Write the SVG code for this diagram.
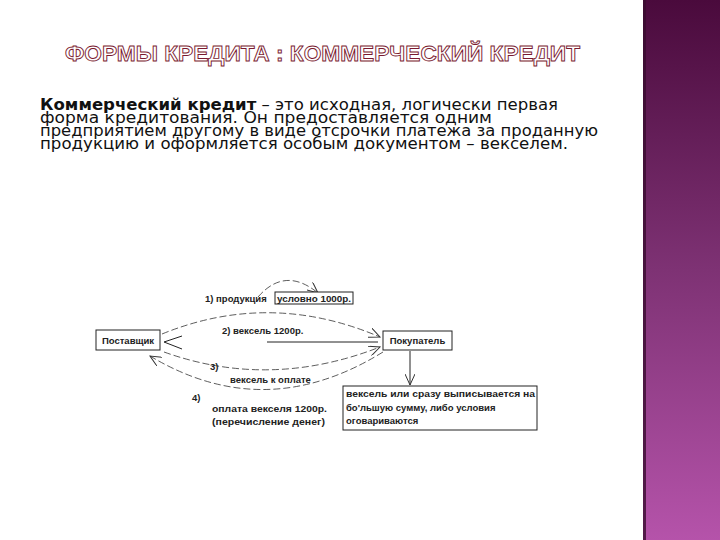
<svg xmlns="http://www.w3.org/2000/svg" width="720" height="540" viewBox="0 0 720 540">
<defs>
<linearGradient id="side" x1="0" y1="0" x2="0" y2="1">
<stop offset="0" stop-color="#4a0a3c"/>
<stop offset="0.5" stop-color="#7e3274"/>
<stop offset="1" stop-color="#b553aa"/>
</linearGradient>
<marker id="arr" viewBox="0 0 12 10" refX="11" refY="5" markerWidth="12" markerHeight="10" markerUnits="userSpaceOnUse" orient="auto">
<path d="M0,0 L11,5 L0,10" fill="none" stroke="#333" stroke-width="1"/>
</marker>
</defs>
<style>
.title{font-family:"Liberation Sans",Arial,sans-serif;font-weight:bold;font-size:22px;fill:#fff;stroke:#7a1a30;stroke-width:0.9}
.body{font-family:"DejaVu Sans",Verdana,sans-serif;font-size:15.5px;fill:#111}
.lbl{font-family:"Liberation Sans",Arial,sans-serif;font-weight:bold;font-size:9.5px;fill:#222}
.box{fill:#fff;stroke:#222;stroke-width:1}
.dash{fill:none;stroke:#333;stroke-width:0.8;stroke-dasharray:7,3}
.solid{fill:none;stroke:#222;stroke-width:1}
</style>
<rect width="720" height="540" fill="#fff"/>
<rect x="643" y="0" width="77" height="540" fill="url(#side)"/>
<rect x="643" y="0" width="3" height="540" fill="#3a0c30" opacity="0.8"/>

<text class="title" x="65" y="61" textLength="515" lengthAdjust="spacingAndGlyphs">ФОРМЫ КРЕДИТА : КОММЕРЧЕСКИЙ КРЕДИТ</text>

<g id="body-text">
<text class="body" x="40" y="110" textLength="518" lengthAdjust="spacingAndGlyphs"><tspan font-weight="bold">Коммерческий кредит</tspan> – это исходная, логически первая</text>
<text class="body" x="40" y="123" textLength="452" lengthAdjust="spacingAndGlyphs">форма кредитования. Он предоставляется одним</text>
<text class="body" x="40" y="136" textLength="558" lengthAdjust="spacingAndGlyphs">предприятием другому в виде отсрочки платежа за проданную</text>
<text class="body" x="40" y="149" textLength="528" lengthAdjust="spacingAndGlyphs">продукцию и оформляется особым документом – векселем.</text>
</g>

<g id="connectors">
<path class="dash" d="M162,334 Q270,290 380,337" marker-end="url(#arr)"/>
<path class="dash" d="M258,297 Q285,266 318,293" marker-end="url(#arr)"/>
<line class="solid" x1="267" y1="342" x2="378" y2="342"/>
<path class="solid" d="M182,336 L164,342 L182,349" stroke-width="0.8"/>
<path class="dash" d="M164,352 Q270,390 380,347" marker-end="url(#arr)"/>
<path class="dash" d="M383,352 Q265,425 150,356" marker-end="url(#arr)"/>
<line class="solid" x1="410" y1="351" x2="410" y2="385" marker-end="url(#arr)"/>
</g>

<g id="node-supplier">
<rect class="box" x="96" y="330" width="64" height="20"/>
<text class="lbl" x="128" y="344" text-anchor="middle">Поставщик</text>
</g>
<g id="node-buyer">
<rect class="box" x="383" y="331" width="69" height="19"/>
<text class="lbl" x="417.5" y="344" text-anchor="middle">Покупатель</text>
</g>
<g id="node-note">
<rect class="box" x="343" y="386" width="194" height="44"/>
<text class="lbl" x="346" y="397" textLength="189" lengthAdjust="spacingAndGlyphs">вексель или сразу выписывается на</text>
<text class="lbl" x="346" y="411">бо'льшую сумму, либо условия</text>
<text class="lbl" x="346" y="424">оговариваются</text>
</g>

<g id="labels">
<text class="lbl" x="205" y="302">1) продукция</text>
<g id="label-1-box">
<rect class="box" x="275" y="292" width="78" height="12"/>
<text class="lbl" x="277" y="302" textLength="74" lengthAdjust="spacingAndGlyphs">условно 1000р.</text>
</g>
<text class="lbl" x="222" y="334">2)  вексель 1200р.</text>
<text class="lbl" x="210" y="370">3)</text>
<text class="lbl" x="230" y="383">вексель к оплате</text>
<text class="lbl" x="192" y="401">4)</text>
<text class="lbl" x="212" y="412" textLength="115" lengthAdjust="spacingAndGlyphs">оплата векселя 1200р.</text>
<text class="lbl" x="212" y="425" textLength="113" lengthAdjust="spacingAndGlyphs">(перечисление денег)</text>
</g>
</svg>
